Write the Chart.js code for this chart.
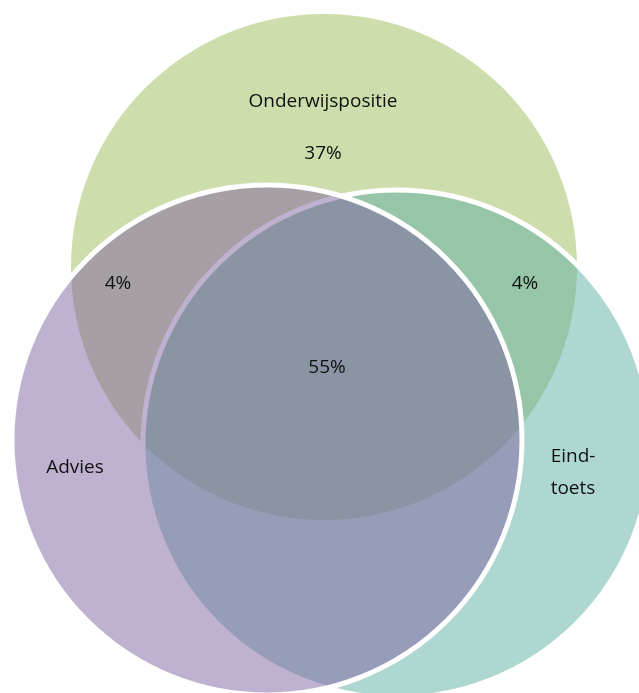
<!DOCTYPE html>
<html>
<head>
<meta charset="utf-8">
<script src="https://cdn.jsdelivr.net/npm/chart.js@4/dist/chart.umd.min.js"></script>
<style>
  html, body { margin: 0; padding: 0; background: #fff; }
  #wrap { width: 639px; height: 693px; }
</style>
</head>
<body>
<div id="wrap"><canvas id="myChart"></canvas></div>
<script>
// sets, drawn bottom to top: Onderwijspositie, Eindtoets, Advies
const setNames = ['Onderwijspositie', 'Eind-\ntoets', 'Advies'];
const setColors = ['rgba(155,187,89,0.5)', 'rgba(95,175,163,0.5)', 'rgba(128,100,162,0.5)'];
const setBorders = [0, 5, 5];

// shares of the regions
const regionNames = ['Onderwijspositie', 'Onderwijspositie + Advies', 'Onderwijspositie + Eindtoets', 'alle drie'];
const regionValues = [37, 4, 4, 55];

// layout (canvas units)
const circleCenters = [[324, 267], [397, 444], [267, 440]];
const circleRadii = [253, 254, 255];
const setLabelPos = [[323, 102], [573, 457], [75, 468]];
const regionLabelPos = [[323, 154], [118, 284], [525, 284], [327, 368]];

const datasets = setNames.map(function(name, i) {
    return {
        label: name,
        data: [{x: circleCenters[i][0], y: circleCenters[i][1], r: circleRadii[i]}],
        backgroundColor: setColors[i],
        borderColor: '#ffffff',
        borderWidth: setBorders[i],
        hoverBorderWidth: setBorders[i],
        clip: false,
        order: 2 - i
    };
});

const labelPlugin = {
    id: 'vennLabels',
    afterDatasetsDraw(chart) {
        const ctx = chart.ctx;
        const xs = chart.scales.x, ys = chart.scales.y;
        ctx.save();
        ctx.fillStyle = '#111111';
        ctx.font = '19px "Open Sans", "Noto Sans", sans-serif';
        ctx.textAlign = 'center';
        ctx.textBaseline = 'middle';
        setNames.forEach(function(name, i) {
            const px = xs.getPixelForValue(setLabelPos[i][0]);
            const py = ys.getPixelForValue(setLabelPos[i][1]);
            name.split('\n').forEach(function(line, j) {
                ctx.fillText(line, px, py + j * 32);
            });
        });
        regionValues.forEach(function(v, i) {
            ctx.fillText(v + '%', xs.getPixelForValue(regionLabelPos[i][0]), ys.getPixelForValue(regionLabelPos[i][1]));
        });
        ctx.restore();
    }
};

new Chart(document.getElementById('myChart'), {
    type: 'bubble',
    data: { datasets: datasets },
    options: {
        responsive: true,
        maintainAspectRatio: false,
        animation: false,
        events: [],
        layout: { padding: 0, autoPadding: false },
        plugins: { legend: { display: false }, tooltip: { enabled: false } },
        scales: {
            x: { type: 'linear', min: 0, max: 639, display: false },
            y: { type: 'linear', min: 0, max: 693, reverse: true, display: false }
        }
    },
    plugins: [labelPlugin]
});
</script>
</body>
</html>
